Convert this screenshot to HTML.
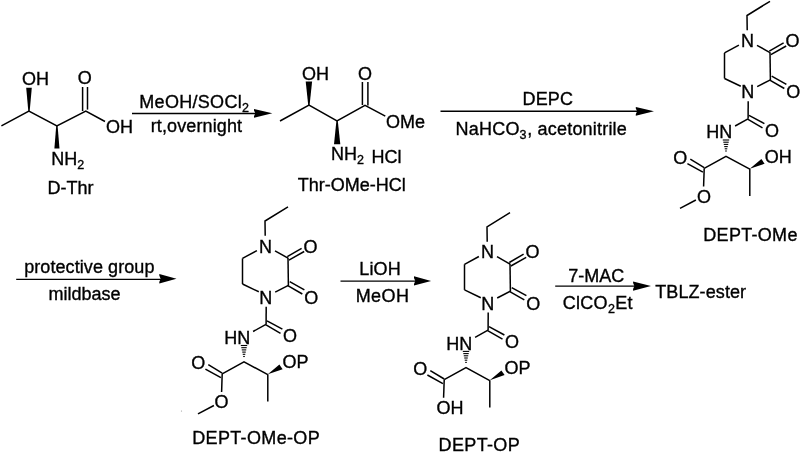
<!DOCTYPE html>
<html><head><meta charset="utf-8">
<style>
html,body{margin:0;padding:0;background:#fff;}
svg{display:block;will-change:transform;}
text{font-family:"Liberation Sans",sans-serif;font-size:18px;fill:#000;stroke:#000;stroke-width:0.35px;}
.b{stroke:#000;stroke-width:1.5;fill:none;stroke-linecap:butt;stroke-linejoin:miter;}
.s{font-size:12.5px;}
</style></head><body>
<svg width="800" height="465" viewBox="0 0 800 465">
<!-- D-Thr -->
<g>
<polyline class="b" points="1.4,125.9 28.9,111 56.9,126 85.8,111 105,121.5"/>
<polygon points="28.3,111 29.7,111 31.8,87.8 26.2,87.8" fill="#000"/>
<polygon points="56.2,126 57.6,126 59.5,148.4 54.4,148.4" fill="#000"/>
<line class="b" x1="82.6" y1="87" x2="82.6" y2="111"/>
<line class="b" x1="87.5" y1="87" x2="87.5" y2="109.6"/>
<text x="22" y="84.5">OH</text>
<text x="77.8" y="84">O</text>
<text x="106" y="132.6">OH</text>
<text x="51.3" y="164.6">NH<tspan class="s" dy="4">2</tspan></text>
<text x="47.5" y="193.7">D-Thr</text>
</g>
<!-- arrow 1 -->
<line class="b" x1="132" y1="113.4" x2="256" y2="113.4"/>
<polygon points="254.00,108.90 272.30,113.35 254.00,117.80 254.00,116.20 255.30,113.35 254.00,110.50" fill="#000"/>
<text x="139.3" y="108" letter-spacing="0.3">MeOH/SOCl<tspan class="s" dy="3.8">2</tspan></text>
<text x="150.7" y="131.9" letter-spacing="0.12">rt,overnight</text>
<!-- Thr-OMe -->
<g>
<polyline class="b" points="280,121 309,105 337,121 365,105.3 385.3,116.2"/>
<polygon points="308.2,105 309.6,105 312.1,81.6 305.7,81.6" fill="#000"/>
<polygon points="336.4,121 337.8,121 340.3,144.3 334,144.3" fill="#000"/>
<line class="b" x1="362.4" y1="82" x2="362.4" y2="105"/>
<line class="b" x1="367.9" y1="82" x2="367.9" y2="105.5"/>
<text x="302" y="79.5">OH</text>
<text x="358" y="79.5">O</text>
<text x="386" y="127.5">OMe</text>
<text x="331" y="159.6">NH<tspan class="s" dy="4">2</tspan></text>
<text x="371.5" y="162.5">HCl</text>
<text x="297.8" y="191">Thr-OMe-HCl</text>
</g>
<!-- arrow 2 -->
<line class="b" x1="440.5" y1="111.35" x2="638" y2="111.35"/>
<polygon points="635.80,106.90 654.00,111.35 635.80,115.80 635.80,114.20 637.10,111.35 635.80,108.50" fill="#000"/>
<text x="522.5" y="105" letter-spacing="0.15">DEPC</text>
<text x="455.6" y="134.8" letter-spacing="0.2">NaHCO<tspan class="s" dy="4">3</tspan><tspan dy="-4" dx="0.4">, acetonitrile</tspan></text>

<!-- DEPT-OMe base -->
<g id="core">
<polyline class="b" points="770,1.3 747,15.5 747.2,30.3"/>
<line class="b" x1="757" y1="45.3" x2="770" y2="52.6"/>
<line class="b" x1="770" y1="52.3" x2="770.4" y2="80.3"/>
<line class="b" x1="770.4" y1="79.8" x2="757.2" y2="86.6"/>
<line class="b" x1="738.9" y1="45.1" x2="724.5" y2="52.9"/>
<line class="b" x1="724.5" y1="52.9" x2="724.5" y2="78.5"/>
<line class="b" x1="724.5" y1="78.5" x2="740.8" y2="86.3"/>
<line class="b" x1="769.3" y1="51.1" x2="783.6" y2="42.8"/>
<line class="b" x1="770.9" y1="54.6" x2="786.2" y2="46.0"/>
<line class="b" x1="769.8" y1="80.2" x2="784.3" y2="88.5"/>
<line class="b" x1="771.7" y1="76.2" x2="786.4" y2="84.3"/>
<line class="b" x1="748.2" y1="101.2" x2="748.1" y2="118.8"/>
<line class="b" x1="748" y1="118.8" x2="735.1" y2="126"/>
<line class="b" x1="747.6" y1="119.2" x2="762.5" y2="127.8"/>
<line class="b" x1="749" y1="115.3" x2="764.4" y2="123.6"/>
<g fill="#000">
<rect x="722.80" y="139.45" width="6.40" height="1.1"/>
<rect x="723.28" y="141.65" width="5.44" height="1.1"/>
<rect x="723.76" y="143.85" width="4.48" height="1.1"/>
<rect x="724.24" y="146.05" width="3.52" height="1.1"/>
<rect x="724.72" y="148.25" width="2.56" height="1.1"/>
<rect x="725.20" y="150.45" width="1.60" height="1.1"/>
</g>
<polyline class="b" points="704.2,168.3 726,156.3 749.8,169.2"/>
<line class="b" x1="749.8" y1="168.8" x2="749.8" y2="196"/>
<polygon points="749.8,168.8 761.4,159.1 764.6,163.7" fill="#000"/>
<line class="b" x1="704.2" y1="168.3" x2="703.6" y2="186.4"/>
<line class="b" x1="704.2" y1="167.6" x2="690.3" y2="159.2"/>
<line class="b" x1="702.9" y1="172.2" x2="687.4" y2="163.6"/>
<text x="741" y="47">N</text>
<text x="785.6" y="47">O</text>
<text x="741.3" y="98.4">N</text>
<text x="786.2" y="98.4">O</text>
<text x="765" y="136.8">O</text>
<text x="706.2" y="138.2">HN</text>
<text x="673.3" y="163.6">O</text>
</g>
<line class="b" x1="695.9" y1="200" x2="680" y2="208.3"/>
<text x="764.7" y="163">OH</text>
<text x="696.9" y="202.8">O</text>
<text x="703.3" y="240.8" letter-spacing="0.3">DEPT-OMe</text>

<!-- DEPT-OMe-OP -->
<g transform="translate(-482,205.5)">
<use href="#core"/>
<line class="b" x1="695.9" y1="200" x2="680" y2="208.3"/>
<text x="764.5" y="162.4">OP</text>
<text x="696.4" y="202.2">O</text>
</g>
<circle cx="181.5" cy="411" r="0.6" fill="#999"/>
<text x="192.2" y="443.7" letter-spacing="0.35">DEPT-OMe-OP</text>

<!-- DEPT-OP -->
<g transform="translate(-260,211.4)">
<use href="#core"/>
<text x="764.5" y="162.4">OP</text>
<text x="696.4" y="202.2">OH</text>
</g>
<text x="438.6" y="451.2" letter-spacing="0.35">DEPT-OP</text>

<!-- arrow 3 -->
<line class="b" x1="16.2" y1="279.3" x2="161" y2="279.3" style="stroke-width:1.3"/>
<polygon points="159.30,274.00 176.50,278.80 159.30,283.60 159.30,282.00 160.60,278.80 159.30,275.60" fill="#000"/>
<text x="24.2" y="272.5" letter-spacing="0.08">protective group</text>
<text x="48.4" y="300.3">mildbase</text>

<!-- arrow 4 -->
<line class="b" x1="340.5" y1="281.1" x2="416" y2="281.1" style="stroke-width:1.3"/>
<polygon points="414.00,276.30 431.10,280.95 414.00,285.60 414.00,284.00 415.30,280.95 414.00,277.90" fill="#000"/>
<text x="359.2" y="275.4" letter-spacing="0.2">LiOH</text>
<text x="355.7" y="301.8" letter-spacing="0.4">MeOH</text>

<!-- arrow 5 -->
<line class="b" x1="555.2" y1="286.1" x2="635" y2="286.1" style="stroke-width:1.3"/>
<polygon points="633.10,281.50 651.00,286.10 633.10,290.70 633.10,289.10 634.40,286.10 633.10,283.10" fill="#000"/>
<text x="568.3" y="282.2">7-MAC</text>
<text x="562.7" y="308.7" letter-spacing="0.3">ClCO<tspan class="s" dy="4">2</tspan><tspan dy="-4">Et</tspan></text>
<text x="655.2" y="298.2" letter-spacing="0.1">TBLZ-ester</text>
</svg>
</body></html>
